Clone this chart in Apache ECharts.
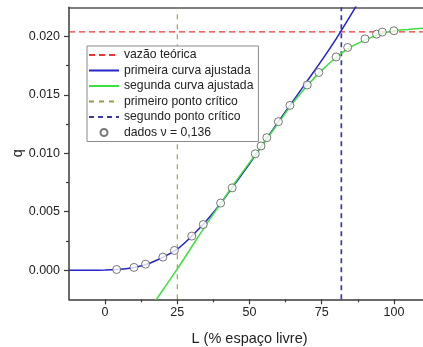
<!DOCTYPE html>
<html>
<head>
<meta charset="utf-8">
<script src="https://cdn.jsdelivr.net/npm/echarts@6/dist/echarts.min.js"></script>
<style>
  html, body { margin: 0; padding: 0; background: #fff; }
  #chart { width: 423px; height: 347px; }
</style>
</head>
<body>
<div id="chart"></div>
<script>
// Axis extents and ticks
const xMin = -12.5, xMax = 112.5;
const yMin = -0.0025, yMax = 0.0225;
const xTicks = [0, 25, 50, 75, 100];
const xMinorTicks = [12.5, 37.5, 62.5, 87.5];
const yTicks = [0, 0.005, 0.010, 0.015, 0.020];
const yMinorTicks = [0.0025, 0.0075, 0.0125, 0.0175];

// Measured flow vs. free space
const dataL = [4, 10, 14, 20, 24, 30, 34, 40, 44, 52, 54, 56, 60, 64, 70, 74, 80, 84, 90, 94, 96, 100];
const dataQ = [0.00005, 0.00023, 0.00051, 0.00111, 0.00168, 0.00291, 0.0039, 0.00574, 0.00704, 0.00996,
               0.01063, 0.01134, 0.01271, 0.0141, 0.01585, 0.01692, 0.01825, 0.01906, 0.0198, 0.0202,
               0.02038, 0.02049];

// First fitted curve
const firstFitL = [-12.5, -5, 0, 5, 10, 15, 20, 25, 30, 35, 40, 45, 50, 55, 60, 65, 70, 75, 80, 85, 90];
const firstFitQ = [-0.00001, -0.000005, 0.0, 0.00007, 0.00023, 0.00055, 0.0011, 0.0018, 0.0029, 0.0042,
                   0.0057, 0.0074, 0.0091, 0.0109, 0.0127, 0.01445, 0.0162, 0.01795, 0.0198, 0.0218, 0.0239];

// Second fitted curve
const secondFitL = [15, 20, 25, 30, 35, 40, 45, 50, 55, 60, 65, 70, 75, 80, 85, 90, 95, 100, 105, 110, 115];
const secondFitQ = [-0.0035, -0.0017, 0.0001, 0.0020, 0.0039, 0.0057, 0.0075, 0.0092, 0.0109, 0.0126,
                    0.0143, 0.0158, 0.0171, 0.0182, 0.0191, 0.0197, 0.0202, 0.0205, 0.0206, 0.0207, 0.0207];

// Reference values
const theoreticalFlow = 0.0204;
const firstCritical = 25;
const secondCritical = 81.8;

const zip = (a, b) => a.map((v, i) => [v, b[i]]);
const FONT = '"Liberation Sans", Arial, sans-serif';
const AXIS_COLOR = '#3a3a3a';
const noSymbol = { opacity: 0 };

const chart = echarts.init(document.getElementById('chart'), null, { renderer: 'canvas' });

const option = {
  backgroundColor: '#ffffff',
  animation: false,
  textStyle: { fontFamily: FONT },
  // plot frame runs slightly past the right edge of the canvas
  grid: { left: 69, top: 7.3, width: 361, height: 292, containLabel: false, outerBoundsMode: 'none' },
  legend: {
    orient: 'vertical',
    left: 87, top: 46,
    backgroundColor: '#ffffff',
    borderColor: '#8a8a8a',
    borderWidth: 1,
    padding: [2, 5, 2, 1],
    itemWidth: 30,
    itemHeight: 7,
    itemGap: 1.5,
    textStyle: { fontFamily: FONT, fontSize: 12.2, color: '#222', lineHeight: 14 },
    data: [
      { name: 'vazão teórica', itemStyle: noSymbol },
      { name: 'primeira curva ajustada', itemStyle: noSymbol },
      { name: 'segunda curva ajustada', itemStyle: noSymbol },
      { name: 'primeiro ponto crítico', itemStyle: noSymbol },
      { name: 'segundo ponto crítico', itemStyle: noSymbol },
      { name: 'dados ν = 0,136' }
    ]
  },
  xAxis: [
    {
      type: 'value', min: xMin, max: xMax, position: 'bottom',
      splitLine: { show: false },
      axisLine: { show: true, onZero: false, lineStyle: { color: AXIS_COLOR, width: 1.5 } },
      axisTick: { show: true, inside: false, length: 5, customValues: xTicks, lineStyle: { color: AXIS_COLOR, width: 1.2 } },
      axisLabel: { customValues: xTicks, margin: 7, fontSize: 12.5, color: '#222', fontFamily: FONT },
      name: 'L (% espaço livre)', nameLocation: 'middle', nameGap: 32, nameMoveOverlap: false,
      nameTextStyle: { fontSize: 14.5, color: '#222', fontFamily: FONT }
    },
    {
      type: 'value', min: xMin, max: xMax, position: 'bottom',
      splitLine: { show: false },
      axisLine: { show: false, onZero: false },
      axisTick: { show: true, inside: false, length: 3, customValues: xMinorTicks, lineStyle: { color: AXIS_COLOR, width: 1.2 } },
      axisLabel: { show: false }
    },
    {
      type: 'value', min: xMin, max: xMax, position: 'top',
      splitLine: { show: false },
      axisLine: { show: true, onZero: false, lineStyle: { color: '#555', width: 1.5 } },
      axisTick: { show: false },
      axisLabel: { show: false }
    }
  ],
  yAxis: [
    {
      type: 'value', min: yMin, max: yMax, position: 'left',
      splitLine: { show: false },
      axisLine: { show: true, onZero: false, lineStyle: { color: AXIS_COLOR, width: 1.5 } },
      axisTick: { show: true, inside: false, length: 5, customValues: yTicks, lineStyle: { color: AXIS_COLOR, width: 1.2 } },
      axisLabel: { customValues: yTicks, margin: 9, fontSize: 12.5, color: '#222', fontFamily: FONT,
                   formatter: v => v.toFixed(3) },
      name: 'q', nameLocation: 'middle', nameGap: 44, nameRotate: 90, nameMoveOverlap: false,
      nameTextStyle: { fontSize: 14.5, color: '#222', fontFamily: FONT }
    },
    {
      type: 'value', min: yMin, max: yMax, position: 'left',
      splitLine: { show: false },
      axisLine: { show: false, onZero: false },
      axisTick: { show: true, inside: false, length: 3, customValues: yMinorTicks, lineStyle: { color: AXIS_COLOR, width: 1.2 } },
      axisLabel: { show: false }
    }
  ],
  series: [
    {
      name: 'vazão teórica', type: 'line', symbol: 'none', z: 3,
      data: [[xMin, theoreticalFlow], [xMax, theoreticalFlow]],
      lineStyle: { color: '#f03434', width: 1.2, type: [6, 4] },
      itemStyle: { color: '#f03434' }
    },
    {
      name: 'primeira curva ajustada', type: 'line', symbol: 'none', z: 4,
      smooth: 0.3, clip: true,
      data: zip(firstFitL, firstFitQ),
      lineStyle: { color: '#2424c8', width: 1.5 },
      itemStyle: { color: '#2424c8' }
    },
    {
      name: 'segunda curva ajustada', type: 'line', symbol: 'none', z: 4,
      smooth: 0.3, clip: true,
      data: zip(secondFitL, secondFitQ),
      lineStyle: { color: '#3ee03e', width: 1.5 },
      itemStyle: { color: '#3ee03e' }
    },
    {
      name: 'primeiro ponto crítico', type: 'line', symbol: 'none', z: 3,
      data: [[firstCritical, yMin], [firstCritical, yMax]],
      lineStyle: { color: '#9c9a46', width: 1.1, type: [5, 5] },
      itemStyle: { color: '#9c9a46' }
    },
    {
      name: 'segundo ponto crítico', type: 'line', symbol: 'none', z: 3,
      data: [[secondCritical, yMin], [secondCritical, yMax]],
      lineStyle: { color: '#3a3a9c', width: 1.7, type: [5, 4] },
      itemStyle: { color: '#3a3a9c' }
    },
    {
      name: 'dados ν = 0,136', type: 'scatter', z: 6,
      symbol: 'circle', symbolSize: 8,
      data: zip(dataL, dataQ),
      itemStyle: { color: '#ffffff', borderColor: '#555555', borderWidth: 1 }
    }
  ]
};

chart.setOption(option);
</script>
</body>
</html>
